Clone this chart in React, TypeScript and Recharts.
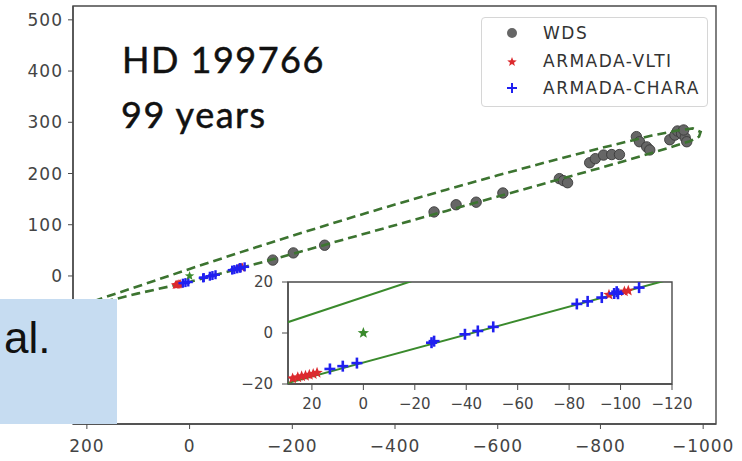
import React from 'react';
import { ScatterChart, Scatter, XAxis, YAxis, ReferenceArea, Legend } from 'recharts';

// ---- WDS astrometry (mas) ----
const wdsX = [-162, -202, -263, -476, -519, -558, -610, -720, -728, -736, -779, -790, -806, -822, -837, -870, -876, -890, -896, -935, -945, -950, -958, -965, -968, -962];
const wdsY = [31, 45, 60, 125, 139, 144, 162, 190, 186, 182, 221, 229, 236, 237, 237, 272, 262, 252, 246, 266, 275, 283, 278, 270, 262, 285];

// ---- ARMADA-VLTI ----
const vltiX = [27.5, 25.5, 24, 22.5, 21, 19.5, 18, -95.5, -101.5, -103];
const vltiY = [-17.8, -17.4, -17, -16.8, -16.4, -16.1, -15.6, 15, 16.3, 16.6];

// ---- ARMADA-CHARA ----
const charaX = [13, 8, 2.5, -26.5, -27.5, -39.5, -44.5, -50.5, -83, -87.2, -92.7, -97.5, -98.5, -99, -107.2];
const charaY = [-14.1, -13, -11.8, -3.8, -3.2, -0.5, 0.8, 2.4, 11.4, 12.4, 13.9, 15.5, 16.2, 15.4, 17.8];

// ---- primary star ----
const primaryX = [0];
const primaryY = [0];

// ---- orbit (main panel) ----
const orbitX = [212, 169, 100, 0, -100, -200, -300, -400, -500, -600, -700, -800, -900, -950, -980, -995, -992, -974, -900, -800, -700, -600, -500, -400, -300, -200, -100, 0, 100, 169, 212];
const orbitY = [-59, -43, -20, 13.7, 46.5, 78.5, 109.5, 139.5, 168.5, 196.5, 223.5, 249.5, 274, 284, 288, 281, 272, 263, 240, 211, 183, 155, 127, 99, 71, 43, 15.5, -11.7, -34, -51, -59];

// ---- orbit in the inset ----
const insetUpperX = [40, -30];
const insetUpperY = [0.7, 24.1];
const insetLowerX = [40, -130];
const insetLowerY = [-22.5, 24];

// ---- ticks ----
const mainXTicks = [200, 0, -200, -400, -600, -800, -1000];
const mainYTicks = [0, 100, 200, 300, 400, 500];
const insetXTicks = [20, 0, -20, -40, -60, -80, -100, -120];
const insetYTicks = [-20, 0, 20];

const zip = (xs: number[], ys: number[]) => xs.map((x, i) => ({ x, y: ys[i] }));

const wds = zip(wdsX, wdsY);
const vlti = zip(vltiX, vltiY);
const chara = zip(charaX, charaY);
const primary = zip(primaryX, primaryY);
const orbit = zip(orbitX, orbitY);
const insetUpper = zip(insetUpperX, insetUpperY);
const insetLower = zip(insetLowerX, insetLowerY);

const RED = '#dc2a2e';
const BLUE = '#2020f0';
const GREEN = '#3a8a2c';
const DASH_GREEN = '#3c7430';
const GRAY = '#666666';
const FRAME = '#4a4a4a';

const fmt = (v: number) => (v < 0 ? '\u2212' + Math.abs(v) : String(v));

const starPoints = (cx: number, cy: number, R: number) => {
  const r = R * 0.42;
  const pts: string[] = [];
  for (let i = 0; i < 10; i++) {
    const rad = i % 2 === 0 ? R : r;
    const a = -Math.PI / 2 + (i * Math.PI) / 5;
    pts.push(`${cx + rad * Math.cos(a)},${cy + rad * Math.sin(a)}`);
  }
  return pts.join(' ');
};

const makeStar = (R: number, color: string) => (props: any) => {
  const { cx, cy } = props;
  if (cx == null || cy == null) return <g />;
  return <polygon points={starPoints(cx, cy, R)} fill={color} />;
};

const makePlus = (h: number, w: number) => (props: any) => {
  const { cx, cy } = props;
  if (cx == null || cy == null) return <g />;
  return (
    <g>
      <line x1={cx - h} y1={cy} x2={cx + h} y2={cy} stroke={BLUE} strokeWidth={w} />
      <line x1={cx} y1={cy - h} x2={cx} y2={cy + h} stroke={BLUE} strokeWidth={w} />
    </g>
  );
};

const makeDot = (r: number) => (props: any) => {
  const { cx, cy } = props;
  if (cx == null || cy == null) return <g />;
  return <circle cx={cx} cy={cy} r={r} fill={GRAY} stroke="#3a3a3a" strokeWidth={0.9} />;
};

const NoShape = () => <g />;

const mainTick = { fontFamily: 'DejaVu Sans', fontSize: 17, fill: '#444', letterSpacing: 1 };
const insetTick = { fontFamily: 'DejaVu Sans', fontSize: 15, fill: '#444' };

const LegendBox = () => (
  <div
    style={{
      width: 227,
      height: 90,
      boxSizing: 'border-box',
      border: '1px solid #d6d6d6',
      borderRadius: 4,
      background: 'rgba(255,255,255,0.85)',
      position: 'relative',
      fontFamily: 'DejaVu Sans',
      fontSize: 17,
      letterSpacing: 1.5,
      color: '#333',
    }}
  >
    <svg width={60} height={90} style={{ position: 'absolute', left: 0, top: 0 }}>
      <circle cx={30} cy={15} r={5} fill={GRAY} />
      <polygon points={starPoints(30, 44, 5)} fill={RED} />
      <line x1={25} y1={70} x2={35} y2={70} stroke={BLUE} strokeWidth={2} />
      <line x1={30} y1={65} x2={30} y2={75} stroke={BLUE} strokeWidth={2} />
    </svg>
    <div style={{ position: 'absolute', left: 61, top: 4, lineHeight: '22px' }}>WDS</div>
    <div style={{ position: 'absolute', left: 61, top: 32, lineHeight: '22px' }}>ARMADA-VLTI</div>
    <div style={{ position: 'absolute', left: 61, top: 59, lineHeight: '22px' }}>ARMADA-CHARA</div>
  </div>
);

export default function App() {
  return (
    <div style={{ position: 'absolute', left: 0, top: 0, width: 742, height: 461, background: '#fff', overflow: 'hidden' }}>
      <div style={{ position: 'absolute', left: 0, top: 0 }}>
        <ScatterChart width={742} height={461} margin={{ top: 6, right: 26, bottom: 0, left: 0 }}>
          <XAxis
            type="number"
            dataKey="x"
            domain={[-1025, 227]}
            reversed
            ticks={mainXTicks}
            tickFormatter={fmt}
            height={37}
            tickSize={5}
            tickMargin={11}
            tick={mainTick}
            stroke={FRAME}
            axisLine={{ stroke: FRAME, strokeWidth: 1.4 }}
            allowDataOverflow
          />
          <YAxis
            type="number"
            dataKey="y"
            domain={[-289, 527]}
            ticks={mainYTicks}
            tickFormatter={fmt}
            width={73}
            tickSize={5}
            tickMargin={5}
            tick={mainTick}
            stroke={FRAME}
            axisLine={{ stroke: FRAME, strokeWidth: 1.4 }}
            allowDataOverflow
          />
          <ReferenceArea x1={-1025} x2={227} y1={-289} y2={527} fill="none" stroke={FRAME} strokeWidth={1.4} />
          <Scatter name="WDS" data={wds} fill={GRAY} shape={makeDot(5.2)} isAnimationActive={false} />
          <Scatter
            name="orbit"
            data={orbit}
            fill={DASH_GREEN}
            line={{ stroke: DASH_GREEN, strokeWidth: 2.6, strokeDasharray: '9 5' }}
            shape={NoShape}
            legendType="none"
            isAnimationActive={false}
          />
          <Scatter name="ARMADA-VLTI" data={vlti} fill={RED} shape={makeStar(5, RED)} isAnimationActive={false} />
          <Scatter name="ARMADA-CHARA" data={chara} fill={BLUE} shape={makePlus(4.5, 2.4)} isAnimationActive={false} />
          <Scatter name="primary" data={primary} fill={GREEN} shape={makeStar(5, GREEN)} legendType="none" isAnimationActive={false} />
          <Legend
            layout="horizontal"
            verticalAlign="middle"
            align="center"
            wrapperStyle={{ left: 481, top: 17, width: 227, height: 90 }}
            content={() => <LegendBox />}
          />
        </ScatterChart>
      </div>

      <div style={{ position: 'absolute', left: 240, top: 272 }}>
        <ScatterChart width={460} height={150} margin={{ top: 10, right: 28, bottom: 0, left: 0 }}>
          <XAxis
            type="number"
            dataKey="x"
            domain={[-120, 29.3]}
            reversed
            ticks={insetXTicks}
            tickFormatter={fmt}
            height={38}
            tickSize={6}
            tickMargin={8}
            tick={insetTick}
            stroke={FRAME}
            axisLine={{ stroke: FRAME, strokeWidth: 1.4 }}
            allowDataOverflow
          />
          <YAxis
            type="number"
            dataKey="y"
            domain={[-20, 20]}
            ticks={insetYTicks}
            tickFormatter={fmt}
            width={48}
            tickSize={6}
            tickMargin={9}
            tick={insetTick}
            stroke={FRAME}
            axisLine={{ stroke: FRAME, strokeWidth: 1.4 }}
            allowDataOverflow
          />
          <ReferenceArea x1={-120} x2={29.3} y1={-20} y2={20} fill="#fff" stroke={FRAME} strokeWidth={1.4} />
          <Scatter data={insetUpper} fill={GREEN} line={{ stroke: GREEN, strokeWidth: 2 }} shape={NoShape} isAnimationActive={false} />
          <Scatter data={insetLower} fill={GREEN} line={{ stroke: GREEN, strokeWidth: 2 }} shape={NoShape} isAnimationActive={false} />
          <Scatter data={vlti} fill={RED} shape={makeStar(6, RED)} isAnimationActive={false} />
          <Scatter data={chara} fill={BLUE} shape={makePlus(5.5, 2.6)} isAnimationActive={false} />
          <Scatter data={primary} fill={GREEN} shape={makeStar(6, GREEN)} isAnimationActive={false} />
        </ScatterChart>
      </div>

      <svg width={742} height={461} style={{ position: 'absolute', left: 0, top: 0, pointerEvents: 'none' }}>
        <text x={122} y={73} fontFamily="Lato" fontSize={36} letterSpacing={1.5} fill="#111" stroke="#111" strokeWidth={0.5}>HD 199766</text>
        <text x={121} y={128} fontFamily="Lato" fontSize={36} letterSpacing={1.5} fill="#111" stroke="#111" strokeWidth={0.5}>99 years</text>
        <rect x={0} y={299} width={117} height={125} fill="#c6dcf1" />
        <text x={4} y={353} fontFamily="Liberation Sans" fontSize={44} fill="#111">al.</text>
      </svg>
    </div>
  );
}
